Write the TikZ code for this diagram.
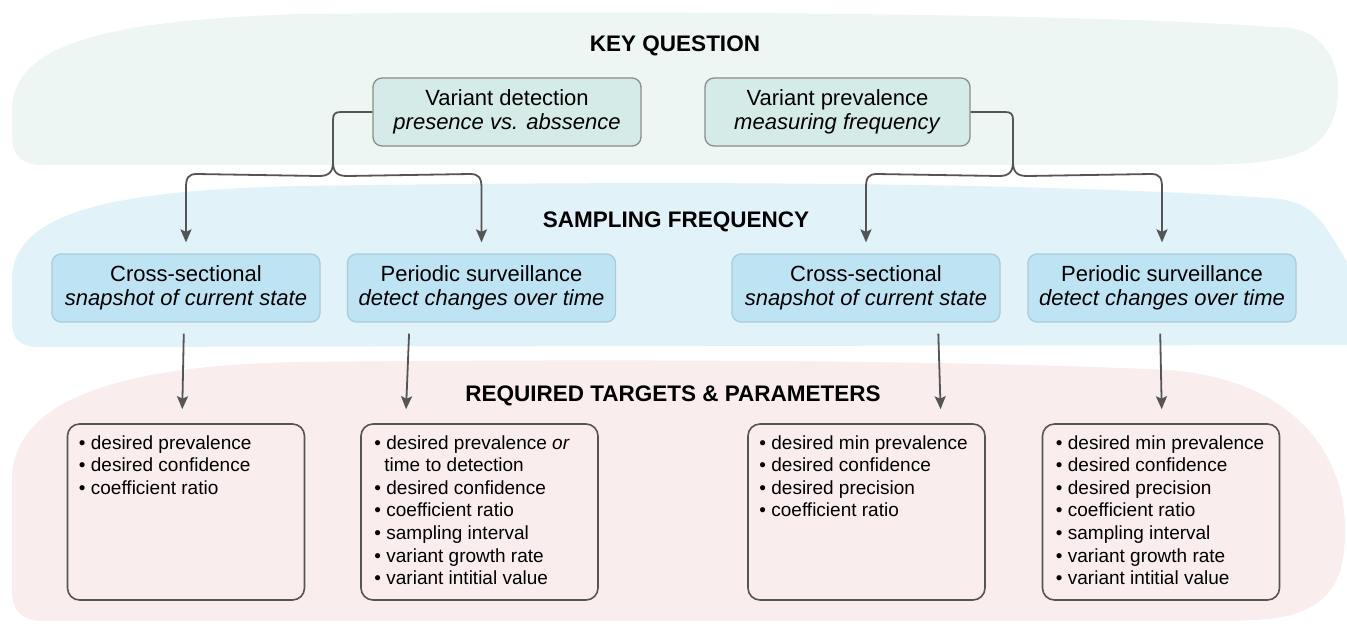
\documentclass[tikz,border=0pt]{standalone}
\usepackage{fontspec}
\setmainfont{Liberation Sans}
\usetikzlibrary{arrows.meta}
\definecolor{bgG}{HTML}{EEF6F3}
\definecolor{bgB}{HTML}{E1F2F9}
\definecolor{bgP}{HTML}{F9EDED}
\definecolor{kqF}{HTML}{D5EBE8}
\definecolor{kqD}{HTML}{8C8C8C}
\definecolor{sfF}{HTML}{BEE4F4}
\definecolor{sfD}{HTML}{A8CCDA}
\definecolor{tgD}{HTML}{555555}
\definecolor{arrC}{HTML}{555555}
\newcommand{\bul}[1]{\makebox[12pt][l]{•}#1}
\newcommand{\cont}[1]{\hspace*{10pt}#1}
\begin{document}
\begin{tikzpicture}[x=1pt,y=-1pt,
  kq/.style={draw=kqD, fill=kqF, line width=1.3pt, rounded corners=9pt, inner sep=0pt, align=center, font=\fontsize{22}{23.5}\selectfont},
  sf/.style={draw=sfD, fill=sfF, line width=1.3pt, rounded corners=9pt, inner sep=0pt, align=center, font=\fontsize{22}{24}\selectfont, minimum width=268pt, minimum height=68pt},
  tg/.style={draw=tgD, line width=1.6pt, rounded corners=12pt, inner sep=0pt, minimum width=237pt, minimum height=176pt},
  tgtext/.style={anchor=north west, inner sep=0pt, align=left, font=\fontsize{19}{22.6}\selectfont},
  head/.style={font=\bfseries\fontsize{22.5}{24}\selectfont},
  arr/.style={draw=arrC, line width=1.8pt, -{Stealth[length=13pt,width=11pt,inset=2.5pt]}},
  ln/.style={draw=arrC, line width=1.8pt},
]
\useasboundingbox (0,0) rectangle (1347,625);
% background bands
\fill[bgG] (300,14) .. controls (700,10) and (1100,14) .. (1290,28) .. controls (1345,35) and (1350,110) .. (1320,140) .. controls (1300,160) and (1260,164) .. (1200,165) -- (45,165) .. controls (20,165) and (12,155) .. (12,135) -- (12,110) .. controls (12,40) and (120,20) .. (300,14) -- cycle;
\fill[bgB] (300,186) .. controls (700,180) and (1050,183) .. (1270,198) .. controls (1310,201) and (1320,215) .. (1347,262) -- (1347,345) -- (40,347) .. controls (18,347) and (12,338) .. (12,320) -- (12,280) .. controls (12,210) and (120,190) .. (300,186) -- cycle;
\fill[bgP] (300,362) .. controls (700,358) and (1000,362) .. (1170,370) .. controls (1290,380) and (1345,450) .. (1345,530) .. controls (1345,580) and (1330,600) .. (1300,612) .. controls (1280,620) and (1250,621) .. (1200,621) -- (45,621) .. controls (20,621) and (12,610) .. (12,590) -- (12,480) .. controls (12,400) and (120,365) .. (300,362) -- cycle;
% headings
\node[head] (hkq) at (675,46) {KEY QUESTION};
\node[head] (hsf) at (676,222) {SAMPLING FREQUENCY};
\node[head] (htg) at (673,396) {REQUIRED TARGETS \& PARAMETERS};
% key question boxes
\node[kq, minimum width=268pt, minimum height=68pt] (vd) at (507,112) {Variant detection\\\textit{presence vs. abssence}};
\node[kq, minimum width=265pt, minimum height=68pt] (vp) at (837.5,112) {Variant prevalence\\\textit{measuring frequency}};
% sampling boxes
\node[sf] (cs1) at (186,288) {Cross-sectional\\\textit{snapshot of current state}};
\node[sf] (p1) at (481.5,288) {Periodic surveillance\\\textit{detect changes over time}};
\node[sf] (cs2) at (866,288) {Cross-sectional\\\textit{snapshot of current state}};
\node[sf] (p2) at (1162,288) {Periodic surveillance\\\textit{detect changes over time}};
% target boxes
\node[tg] (t1) at (186,512) {};
\node[tg] (t2) at (479.5,512) {};
\node[tg] (t3) at (866.5,512) {};
\node[tg] (t4) at (1161,512) {};
\node[tgtext] (t1x) at ([xshift=12pt,yshift=-12pt]t1.north west) {\bul{desired prevalence}\\\bul{desired confidence}\\\bul{coefficient ratio}};
\node[tgtext] (t2x) at ([xshift=14pt,yshift=-12pt]t2.north west) {\bul{desired prevalence \textit{or}}\\\cont{time to detection}\\\bul{desired confidence}\\\bul{coefficient ratio}\\\bul{sampling interval}\\\bul{variant growth rate}\\\bul{variant intitial value}};
\node[tgtext] (t3x) at ([xshift=12pt,yshift=-12pt]t3.north west) {\bul{desired min prevalence}\\\bul{desired confidence}\\\bul{desired precision}\\\bul{coefficient ratio}};
\node[tgtext] (t4x) at ([xshift=14pt,yshift=-12pt]t4.north west) {\bul{desired min prevalence}\\\bul{desired confidence}\\\bul{desired precision}\\\bul{coefficient ratio}\\\bul{sampling interval}\\\bul{variant growth rate}\\\bul{variant intitial value}};
% left brace
\coordinate (bL) at (333,162);
\draw[ln] (vd.west) -- (341,112) .. controls (335,112) and (333,114) .. (333,120) -- (bL);
\draw[arr, shorten >=11pt] (bL) .. controls (333,172) and (329,176) .. (319,176) -- (197,174) .. controls (188,174) and (186,178) .. (186,188) -- (cs1.north);
\draw[arr, shorten >=11pt] (bL) .. controls (333,172) and (337,176) .. (347,176) -- (470,174) .. controls (479,174) and (481.5,178) .. (481.5,188) -- (p1.north);
% right brace
\coordinate (bR) at (1013,162);
\draw[ln] (vp.east) -- (1005,112) .. controls (1011,112) and (1013,114) .. (1013,120) -- (bR);
\draw[arr, shorten >=11pt] (bR) .. controls (1013,172) and (1009,176) .. (999,176) -- (877,174) .. controls (868,174) and (866,178) .. (866,188) -- (cs2.north);
\draw[arr, shorten >=11pt] (bR) .. controls (1013,172) and (1017,176) .. (1027,176) -- (1151,174) .. controls (1160,174) and (1162,178) .. (1162,188) -- (p2.north);
% lower arrows
\draw[arr, shorten <=11pt, shorten >=14pt] ([xshift=-2pt]cs1.south) -- ([xshift=-4pt]t1.north);
\draw[arr, shorten <=11pt, shorten >=14pt] ([xshift=-72pt]p1.south) -- ([xshift=-74pt]t2.north);
\draw[arr, shorten <=11pt, shorten >=14pt] ([xshift=72pt]cs2.south) -- ([xshift=74.5pt]t3.north);
\draw[arr, shorten <=11pt, shorten >=14pt] ([xshift=-2pt]p2.south) -- ([xshift=1pt]t4.north);
\end{tikzpicture}
\end{document}
